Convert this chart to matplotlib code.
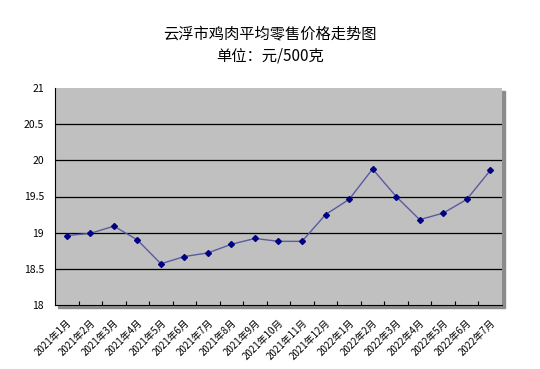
import matplotlib.pyplot as plt
from matplotlib.patches import Rectangle

plt.rcParams['font.family'] = ['Noto Sans CJK SC', 'DejaVu Sans']

months = ['2021年1月', '2021年2月', '2021年3月', '2021年4月', '2021年5月',
          '2021年6月', '2021年7月', '2021年8月', '2021年9月', '2021年10月',
          '2021年11月', '2021年12月', '2022年1月', '2022年2月', '2022年3月',
          '2022年4月', '2022年5月', '2022年6月', '2022年7月']
prices = [18.96, 18.99, 19.09, 18.90, 18.57, 18.67, 18.72, 18.84, 18.92,
          18.88, 18.88, 19.25, 19.46, 19.88, 19.50, 19.18, 19.27, 19.46, 19.86]
yticks = [18, 18.5, 19, 19.5, 20, 20.5, 21]

fig = plt.figure(figsize=(5.4, 3.69), dpi=100)
ax = fig.add_axes([55/540, 1 - 305/369, 447/540, 217/369])
ax.set_facecolor('#c0c0c0')

# shadow behind plot area
fig.patches.append(Rectangle((58/540, 1 - 308/369), 447/540, 217/369,
                             transform=fig.transFigure, color='#8c8c8c', zorder=-1))

x = list(range(len(months)))
ax.plot(x, prices, color='#5a5aa0', lw=1.0, marker='D', ms=3,
        mfc='#000080', mec='#000080', zorder=3)

ax.set_xlim(-0.5, len(months) - 0.5)
ax.set_ylim(18, 21)
ax.set_yticks(yticks)
ax.set_yticklabels(['18', '18.5', '19', '19.5', '20', '20.5', '21'], fontsize=7.5)
for v in yticks[1:-1]:
    ax.axhline(v, color='black', lw=0.9, zorder=1)

ax.set_xticks([i + 0.5 for i in x[:-1]])
ax.set_xticklabels([])
ax.set_xticks(x, minor=True)
ax.set_xticklabels(months, minor=True, rotation=45, ha='right',
                   rotation_mode='anchor', fontsize=7)
ax.tick_params(axis='x', which='minor', length=0, pad=9)
ax.tick_params(axis='x', which='major', direction='in', length=3)
ax.tick_params(axis='y', length=0, pad=8)

for s in ['top', 'right']:
    ax.spines[s].set_visible(False)
ax.spines['left'].set_color('black')
ax.spines['bottom'].set_color('black')

fig.text(0.5, 1 - 35/369, '云浮市鸡肉平均零售价格走势图', ha='center', va='center', fontsize=11)
fig.text(0.5, 1 - 56/369, '单位：元/500克', ha='center', va='center', fontsize=11)

fig.savefig('out.png', dpi=100)
